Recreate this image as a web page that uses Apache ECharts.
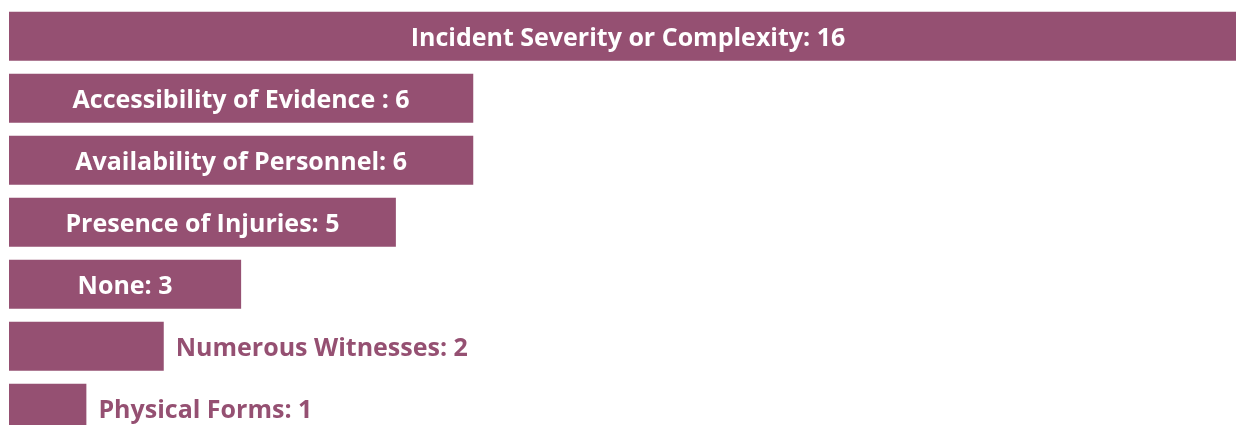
<!DOCTYPE html>
<html>
<head>
<meta charset="utf-8">
<script src="https://cdn.jsdelivr.net/npm/echarts@6/dist/echarts.min.js"></script>
<style>
  html, body { margin: 0; padding: 0; background: #ffffff; }
  #chart { width: 1236px; height: 425px; }
</style>
</head>
<body>
<div id="chart"></div>
<script>
// Factors influencing investigation, with counts of responses
const categories = [
  'Incident Severity or Complexity',
  'Accessibility of Evidence ',
  'Availability of Personnel',
  'Presence of Injuries',
  'None',
  'Numerous Witnesses',
  'Physical Forms'
];
const counts = [16, 6, 6, 5, 3, 2, 1];

const BAR_COLOR = '#955072';
const FONT = '"Open Sans", "Noto Sans", sans-serif';

const chart = echarts.init(document.getElementById('chart'));

// Wide bars carry a white label inside; short bars get a coloured label to their right
const seriesData = counts.map((v, i) => {
  const inside = v >= 3;
  return {
    value: v,
    label: {
      show: true,
      position: inside ? 'inside' : 'right',
      distance: 12,
      offset: [0, 3],
      color: inside ? '#ffffff' : BAR_COLOR,
      formatter: categories[i] + ': ' + v,
      fontFamily: FONT,
      fontWeight: 'bold',
      fontSize: 25
    }
  };
});

chart.setOption({
  animation: false,
  grid: {
    left: 9, top: 5.35, width: 1238, height: 434,
    containLabel: false,
    outerBoundsMode: 'none'
  },
  xAxis: {
    type: 'value', min: 0, max: 16,
    show: false
  },
  yAxis: {
    type: 'category', data: categories, inverse: true,
    show: false
  },
  series: [{
    type: 'bar',
    data: seriesData,
    barWidth: 49,
    itemStyle: { color: BAR_COLOR },
    silent: true
  }]
});
</script>
</body>
</html>
